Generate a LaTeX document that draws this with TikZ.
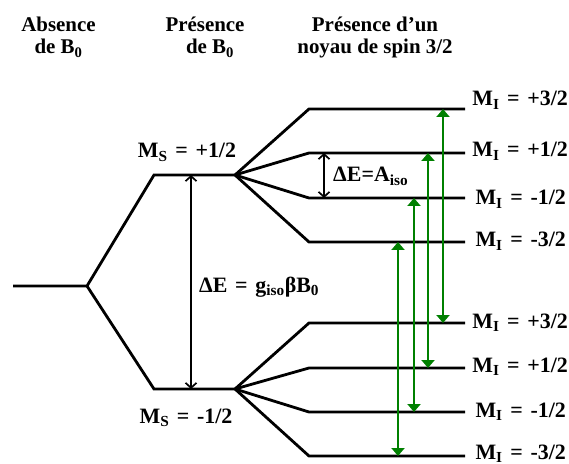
\documentclass[tikz,border=0pt]{standalone}
\usepackage{fontspec}
\setmainfont{Liberation Serif}
\newfontfamily\lblfont{Liberation Serif}[WordSpace=1.4]
\usetikzlibrary{arrows.meta}
\definecolor{transColor}{HTML}{008000}
\tikzset{
  level/.style={line width=2.8bp, line join=miter},
  gap/.style={line width=1.7bp,
    {Straight Barb[length=5bp,width=11bp]}-{Straight Barb[length=5bp,width=11bp]}},
  trans/.style={transColor, line width=2.3bp,
    {Triangle[length=8bp,width=13bp]}-{Triangle[length=8bp,width=13bp]}},
  title/.style={font=\fontsize{21}{24}\selectfont\bfseries, inner sep=0pt},
  lbl/.style={font=\lblfont\fontsize{22}{24}\selectfont\bfseries, inner sep=0pt},
}

\begin{document}
\begin{tikzpicture}[x=1bp, y=-1bp]
    \useasboundingbox (0,0) rectangle (569,464);

    % titres
    \node[title, anchor=base] (absA) at (58.5,32) {Absence};
    \node[title, anchor=base] (absB) at (58.5,54) {de B\textsubscript{0}};
    \node[title, anchor=base] (preA) at (205,32) {Présence};
    \node[title, anchor=base] (preB) at (210,54) {de B\textsubscript{0}};
    \node[title, anchor=base] (nucA) at (375,32) {Présence d’un};
    \node[title, anchor=base] (nucB) at (375,54) {noyau de spin 3/2};

    % niveaux electroniques
    \coordinate (g0) at (13,286);
    \coordinate (g1) at (87,286);
    \coordinate (up0) at (154,175);
    \coordinate (up1) at (235,175);
    \coordinate (dn0) at (154,389);
    \coordinate (dn1) at (235,389);
    \draw[level] (g0) -- (g1) -- (up0) -- (up1);
    \draw[level] (g1) -- (dn0) -- (dn1);

    % niveaux hyperfins
    \foreach \i/\y in {a/109, b/153, c/198, d/242} {
        \coordinate (ua\i) at (309,\y);
        \coordinate (ub\i) at (465,\y);
        \draw[level] (up1) -- (ua\i) -- (ub\i);
    }
    \foreach \i/\y in {a/323, b/368, c/412, d/456} {
        \coordinate (la\i) at (309,\y);
        \coordinate (lb\i) at (465,\y);
        \draw[level] (dn1) -- (la\i) -- (lb\i);
    }

    \node[lbl, anchor=base east] (miUa) at (568,106) {M\textsubscript{I} = +3/2};
    \node[lbl, anchor=base east] (miUb) at (568,157) {M\textsubscript{I} = +1/2};
    \node[lbl, anchor=base east] (miUc) at (566,205) {M\textsubscript{I} = -1/2};
    \node[lbl, anchor=base east] (miUd) at (566,247) {M\textsubscript{I} = -3/2};
    \node[lbl, anchor=base east] (miLa) at (568,328) {M\textsubscript{I} = +3/2};
    \node[lbl, anchor=base east] (miLb) at (568,372) {M\textsubscript{I} = +1/2};
    \node[lbl, anchor=base east] (miLc) at (566,417) {M\textsubscript{I} = -1/2};
    \node[lbl, anchor=base east] (miLd) at (566,459) {M\textsubscript{I} = -3/2};

    \node[lbl, anchor=base] (msUp) at (187,158) {M\textsubscript{S} = +1/2};
    \node[lbl, anchor=base] (msDn) at (186,423) {M\textsubscript{S} = -1/2};

    % ecarts
    \coordinate (xe) at (191,0);
    \draw[gap] (xe |- up0) -- (xe |- dn0);
    \node[lbl, anchor=base west] (dEg) at (199,292) {ΔE = g\textsubscript{iso}βB\textsubscript{0}};
    \coordinate (xa) at (324,0);
    \draw[gap] (xa |- uab) -- (xa |- uac);
    \node[lbl, anchor=base west] (dEa) at (333,182) {ΔE=A\textsubscript{iso}};

    % transitions
    \foreach \x/\i in {443/a, 428/b, 414/c, 398/d} {
        \coordinate (tx\i) at (\x,0);
        \draw[trans] (tx\i |- ua\i) -- (tx\i |- la\i);
    }
\end{tikzpicture}
\end{document}
